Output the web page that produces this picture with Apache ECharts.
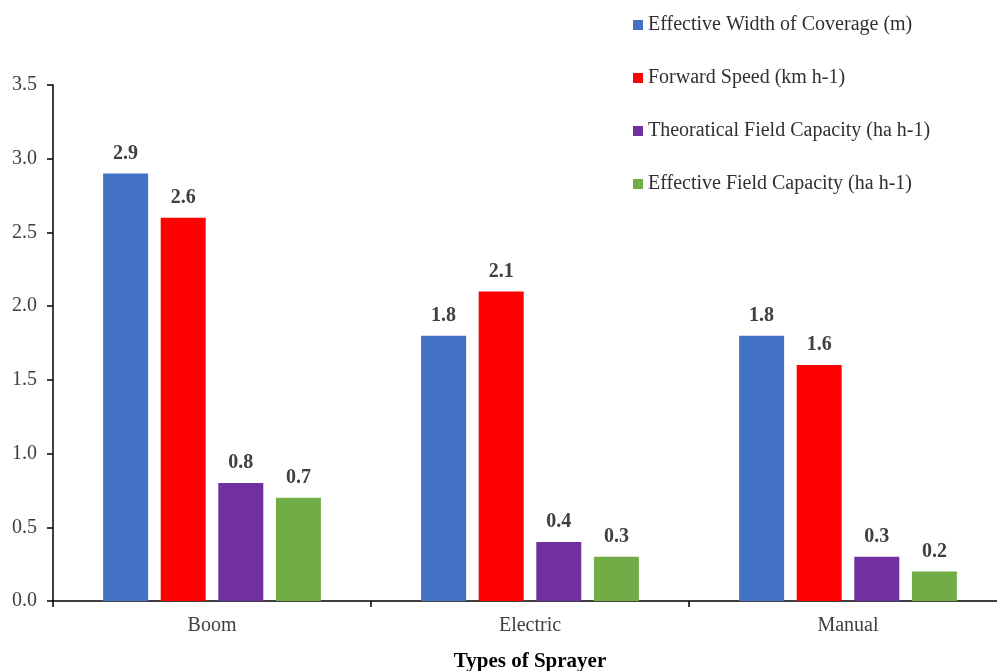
<!DOCTYPE html>
<html>
<head>
<meta charset="utf-8">
<script src="https://cdn.jsdelivr.net/npm/echarts@6/dist/echarts.min.js"></script>
<style>
  html, body { margin: 0; padding: 0; background: #fff; }
  #chart { width: 997px; height: 671px; }
</style>
</head>
<body>
<div id="chart"></div>
<script>
// Sprayer performance by type
const categories = ['Boom', 'Electric', 'Manual'];
const seriesNames = [
  'Effective Width of Coverage (m)',
  'Forward Speed (km h-1)',
  'Theoratical Field Capacity (ha h-1)',
  'Effective Field Capacity (ha h-1)'
];
const widthOfCoverage = [2.9, 1.8, 1.8];
const forwardSpeed = [2.6, 2.1, 1.6];
const theoreticalCapacity = [0.8, 0.4, 0.3];
const effectiveCapacity = [0.7, 0.3, 0.2];
const colors = ['#4472C4', '#FF0000', '#7030A0', '#70AD47'];

const font = '"Liberation Serif", "Times New Roman", serif';
const values = [widthOfCoverage, forwardSpeed, theoreticalCapacity, effectiveCapacity];

const chart = echarts.init(document.getElementById('chart'));
chart.setOption({
  animation: false,
  color: colors,
  grid: {
    left: 53, top: 85, width: 954, bottom: 70,
    containLabel: false, outerBoundsMode: 'none'
  },
  legend: {
    orient: 'vertical',
    left: 628,
    top: 10,
    itemWidth: 10,
    itemHeight: 10,
    itemGap: 33,
    icon: 'rect',
    textStyle: { fontFamily: font, fontSize: 20, color: '#303030' },
    data: seriesNames
  },
  xAxis: {
    type: 'category',
    data: categories,
    name: 'Types of Sprayer',
    nameLocation: 'middle',
    nameGap: 50,
    nameTextStyle: { fontFamily: font, fontSize: 21, fontWeight: 'bold', color: '#000' },
    axisLine: { lineStyle: { color: '#000', width: 1.5 } },
    axisTick: { show: true, length: 6, lineStyle: { color: '#000', width: 1.5 } },
    axisLabel: { fontFamily: font, fontSize: 20, color: '#404040', margin: 15 }
  },
  yAxis: {
    type: 'value',
    min: 0,
    max: 3.5,
    interval: 0.5,
    splitLine: { show: false },
    axisLine: { show: true, lineStyle: { color: '#000', width: 1.5 } },
    axisTick: { show: true, length: 6, lineStyle: { color: '#000', width: 1.5 } },
    axisLabel: {
      fontFamily: font, fontSize: 20, color: '#404040', margin: 16,
      formatter: v => v.toFixed(1)
    }
  },
  series: seriesNames.map((name, i) => ({
    name,
    type: 'bar',
    data: values[i],
    barWidth: 45,
    barGap: '28%',
    itemStyle: { color: colors[i] },
    label: {
      show: true,
      position: 'top',
      distance: 10,
      fontFamily: font,
      fontSize: 20,
      fontWeight: 'bold',
      color: '#404040',
      formatter: p => p.value.toFixed(1)
    }
  }))
});
</script>
</body>
</html>
